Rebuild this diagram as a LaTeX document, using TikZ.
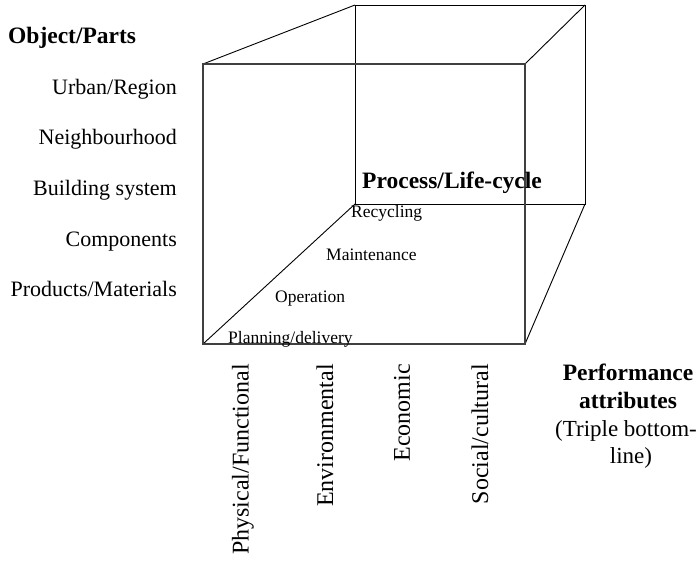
\documentclass[tikz,border=0pt]{standalone}
\usepackage{fontspec}
\setmainfont{Liberation Serif}
\usetikzlibrary{positioning}

\begin{document}
\begin{tikzpicture}[x=1pt, y=-1pt,
    heading/.style={font=\bfseries\fontsize{23.5}{27}\selectfont, inner sep=0},
    objtext/.style={font=\fontsize{22}{26}\selectfont, inner sep=0, anchor=base east},
    phasetext/.style={font=\fontsize{17.5}{20}\selectfont, inner sep=0, anchor=base west},
    attrtext/.style={font=\fontsize{24}{28}\selectfont, inner sep=0, rotate=90, anchor=east},
    notetext/.style={font=\fontsize{23}{27}\selectfont, inner sep=0, anchor=base},
    face/.style={line width=1.5, black!75},
    edge/.style={line width=0.9}]
    \useasboundingbox (0,0) rectangle (700,561);

    % Cube corners
    \coordinate (ftl) at (203,64);  \coordinate (ftr) at (525,64);
    \coordinate (fbr) at (525,344); \coordinate (fbl) at (203,344);
    \coordinate (btl) at (355,5);   \coordinate (btr) at (585,5);
    \coordinate (bbr) at (585,204); \coordinate (bbl) at (355,204);

    % Back face and depth edges
    \draw[edge] (btl) -- (btr) -- (bbr) -- (bbl) -- cycle;
    \draw[edge] (ftl) -- (btl);
    \draw[edge] (ftr) -- (btr);
    \draw[edge] (fbr) -- (bbr);
    \draw[edge] (fbl) -- (bbl);

    % Front face
    \draw[face] (ftl) -- (ftr) -- (fbr) -- (fbl) -- cycle;

    % Object/Parts axis
    \node[heading, anchor=base west] (objhead) at (8,44) {Object/Parts};
    \node[objtext] (urban) at (177,95) {Urban/Region};
    \node[objtext] (neigh) at (177,145) {Neighbourhood};
    \node[objtext] (build) at (177,196) {Building system};
    \node[objtext] (comp) at (177,246) {Components};
    \node[objtext] (prod) at (177,296) {Products/Materials};

    % Process/Life-cycle axis
    \node[heading, anchor=base west] (prochead) at (362,189) {Process/Life-cycle};
    \node[phasetext] (recyc) at (351,218) {Recycling};
    \node[phasetext] (maint) at (326,260) {Maintenance};
    \node[phasetext] (oper) at (275,302) {Operation};
    \node[phasetext] (plan) at (228,343) {Planning/delivery};

    % Performance attributes axis
    \node[attrtext] (phys) at (243,364) {Physical/Functional};
    \node[attrtext] (envi) at (325,364) {Environmental};
    \node[attrtext] (econ) at (402,364) {Economic};
    \node[attrtext] (soci) at (480,364) {Social/cultural};

    \node[heading, anchor=base] (perfhead) at (628,380) {Performance};
    \node[heading, anchor=base] (perfsub) at (628,408) {attributes};
    \node[notetext] (triple) at (626,436) {(Triple bottom-};
    \node[notetext] (tline) at (631,463) {line)};
\end{tikzpicture}
\end{document}
